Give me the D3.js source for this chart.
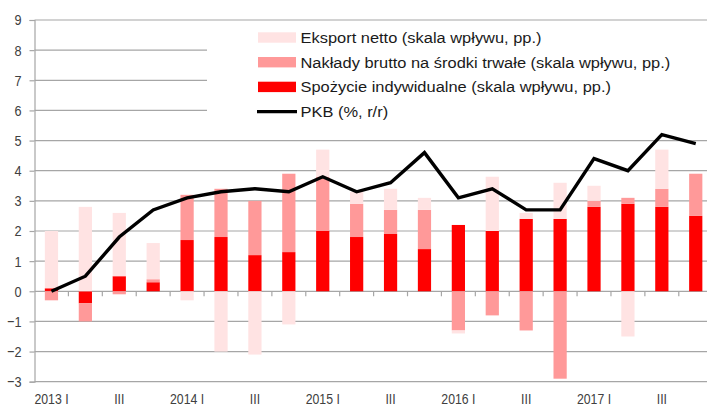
<!DOCTYPE html>
<html>
<head>
<meta charset="utf-8">
<script src="https://cdn.jsdelivr.net/npm/d3@7"></script>
<style>
  html, body { margin: 0; padding: 0; background: #fff; }
  svg { display: block; }
</style>
</head>
<body>
<svg id="chart" width="707" height="407"></svg>
<script>
const categories = ["2013 Q1","2013 Q2","2013 Q3","2013 Q4","2014 Q1","2014 Q2","2014 Q3","2014 Q4",
  "2015 Q1","2015 Q2","2015 Q3","2015 Q4","2016 Q1","2016 Q2","2016 Q3","2016 Q4",
  "2017 Q1","2017 Q2","2017 Q3","2017 Q4"];
const tickLabels = ["2013 I","","III","","2014 I","","III","","2015 I","","III","",
  "2016 I","","III","","2017 I","","III",""];
const consumption = [0.1,-0.4,0.5,0.3,1.7,1.8,1.2,1.3,2.0,1.8,1.9,1.4,2.2,2.0,2.4,2.4,2.8,2.9,2.8,2.5];
const investment  = [-0.3,-0.6,-0.1,0.1,1.5,1.6,1.8,2.6,1.8,1.1,0.8,1.3,-1.3,-0.8,-1.3,-2.9,0.2,0.2,0.6,1.4];
const netExport   = [1.9,2.8,2.1,1.2,-0.3,-2.0,-2.1,-1.1,0.9,0.4,0.7,0.4,-0.1,1.8,0.2,1.2,0.5,-1.5,1.3,0.0];
const gdp         = [0.0,0.5,1.8,2.7,3.1,3.3,3.4,3.3,3.8,3.3,3.6,4.6,3.1,3.4,2.7,2.7,4.4,4.0,5.2,4.9];
const yTicks = [-3,-2,-1,0,1,2,3,4,5,6,7,8,9];
const seriesNames = ["Spożycie indywidualne (skala wpływu, pp.)",
  "Nakłady brutto na środki trwałe (skala wpływu, pp.)",
  "Eksport netto (skala wpływu, pp.)"];
const lineName = "PKB (%, r/r)";
const colors = ["#ff0000", "#ff9999", "#ffe3e3"];

const svg = d3.select("#chart");
const x = d3.scaleBand().domain(categories).range([34.5, 712.7]).paddingInner(0.61).paddingOuter(0.305);
const y = d3.scaleLinear().domain([-3, 9]).range([381.7, 20]);

const font = "'Liberation Sans',Arial,sans-serif";
const gridColor = "#a6a6a6";
const axisScaleX = 0.82;

// gridlines
svg.append("g").selectAll("line").data(yTicks).join("line")
  .attr("x1", 34.5).attr("x2", 707)
  .attr("y1", d => y(d)).attr("y2", d => y(d))
  .attr("stroke", gridColor).attr("stroke-width", 1.2);

// legend background (hides upper gridlines)
const lg = svg.append("g");
lg.append("rect").attr("x", 207).attr("y", 22).attr("width", 500).attr("height", 101).attr("fill", "#fff");

// stacked bars
const table = categories.map((c, i) => ({cat: c, s0: consumption[i], s1: investment[i], s2: netExport[i]}));
const stack = d3.stack().keys(["s0","s1","s2"]).offset(d3.stackOffsetDiverging);
const layers = stack(table);
svg.append("g").selectAll("g").data(layers).join("g")
  .attr("fill", (d, i) => colors[i])
  .selectAll("rect").data(d => d).join("rect")
  .attr("x", d => x(d.data.cat))
  .attr("width", x.bandwidth())
  .attr("y", d => y(Math.max(d[0], d[1])))
  .attr("height", d => Math.abs(y(d[0]) - y(d[1])));

// left axis
const yAxis = svg.append("g").attr("transform", "translate(34.5,0)")
  .call(d3.axisLeft(y).tickValues(yTicks).tickSize(5).tickPadding(8).tickFormat(d3.format("d")));
yAxis.select(".domain").attr("stroke", gridColor).attr("stroke-width", 1.2);
yAxis.selectAll(".tick line").attr("stroke", gridColor).attr("stroke-width", 1.2);
yAxis.selectAll(".tick text").each(function() {
  const t = d3.select(this);
  const xx = +t.attr("x");
  t.attr("x", null)
   .attr("transform", `translate(${xx},0) scale(${axisScaleX},1)`)
   .attr("font-family", font).attr("font-size", "15.5px").attr("fill", "#404040");
});

// x axis (at zero)
const step = x.step();
const boundaries = d3.range(1, categories.length).map(i => x(categories[i]) - (step - x.bandwidth()) / 2);
svg.append("g").selectAll("line").data(boundaries).join("line")
  .attr("x1", d => d).attr("x2", d => d)
  .attr("y1", y(0)).attr("y2", y(0) + 5)
  .attr("stroke", gridColor).attr("stroke-width", 1.2);
svg.append("g").selectAll("text").data(categories).join("text")
  .attr("transform", d => `translate(${x(d) + x.bandwidth() / 2},403.5) scale(${axisScaleX},1)`)
  .attr("text-anchor", "middle")
  .attr("font-family", font).attr("font-size", "15px").attr("fill", "#404040")
  .text((d, i) => tickLabels[i]);

// GDP line
const line = d3.line().x((d, i) => x(categories[i]) + x.bandwidth() / 2).y(d => y(d));
svg.append("path").datum(gdp)
  .attr("d", line).attr("fill", "none")
  .attr("stroke", "#000").attr("stroke-width", 3.4).attr("stroke-linejoin", "miter");

// legend
const legendItems = [
  {name: seriesNames[2], color: colors[2], type: "rect"},
  {name: seriesNames[1], color: colors[1], type: "rect"},
  {name: seriesNames[0], color: colors[0], type: "rect"},
  {name: lineName, color: "#000", type: "line"}
];
const rowY = [37.5, 62.2, 86.9, 111.6];
legendItems.forEach((it, i) => {
  if (it.type === "rect") {
    lg.append("rect").attr("x", 258).attr("y", rowY[i] - 5.2).attr("width", 38).attr("height", 10.4).attr("fill", it.color);
  } else {
    lg.append("line").attr("x1", 257).attr("x2", 297).attr("y1", rowY[i]).attr("y2", rowY[i])
      .attr("stroke", it.color).attr("stroke-width", 3.4);
  }
  lg.append("text").attr("transform", `translate(300.5,${rowY[i] + 5.5}) scale(1.06,1)`)
    .attr("font-family", font).attr("font-size", "15.5px").attr("fill", "#1a1a1a")
    .text(it.name);
});
</script>
</body>
</html>
